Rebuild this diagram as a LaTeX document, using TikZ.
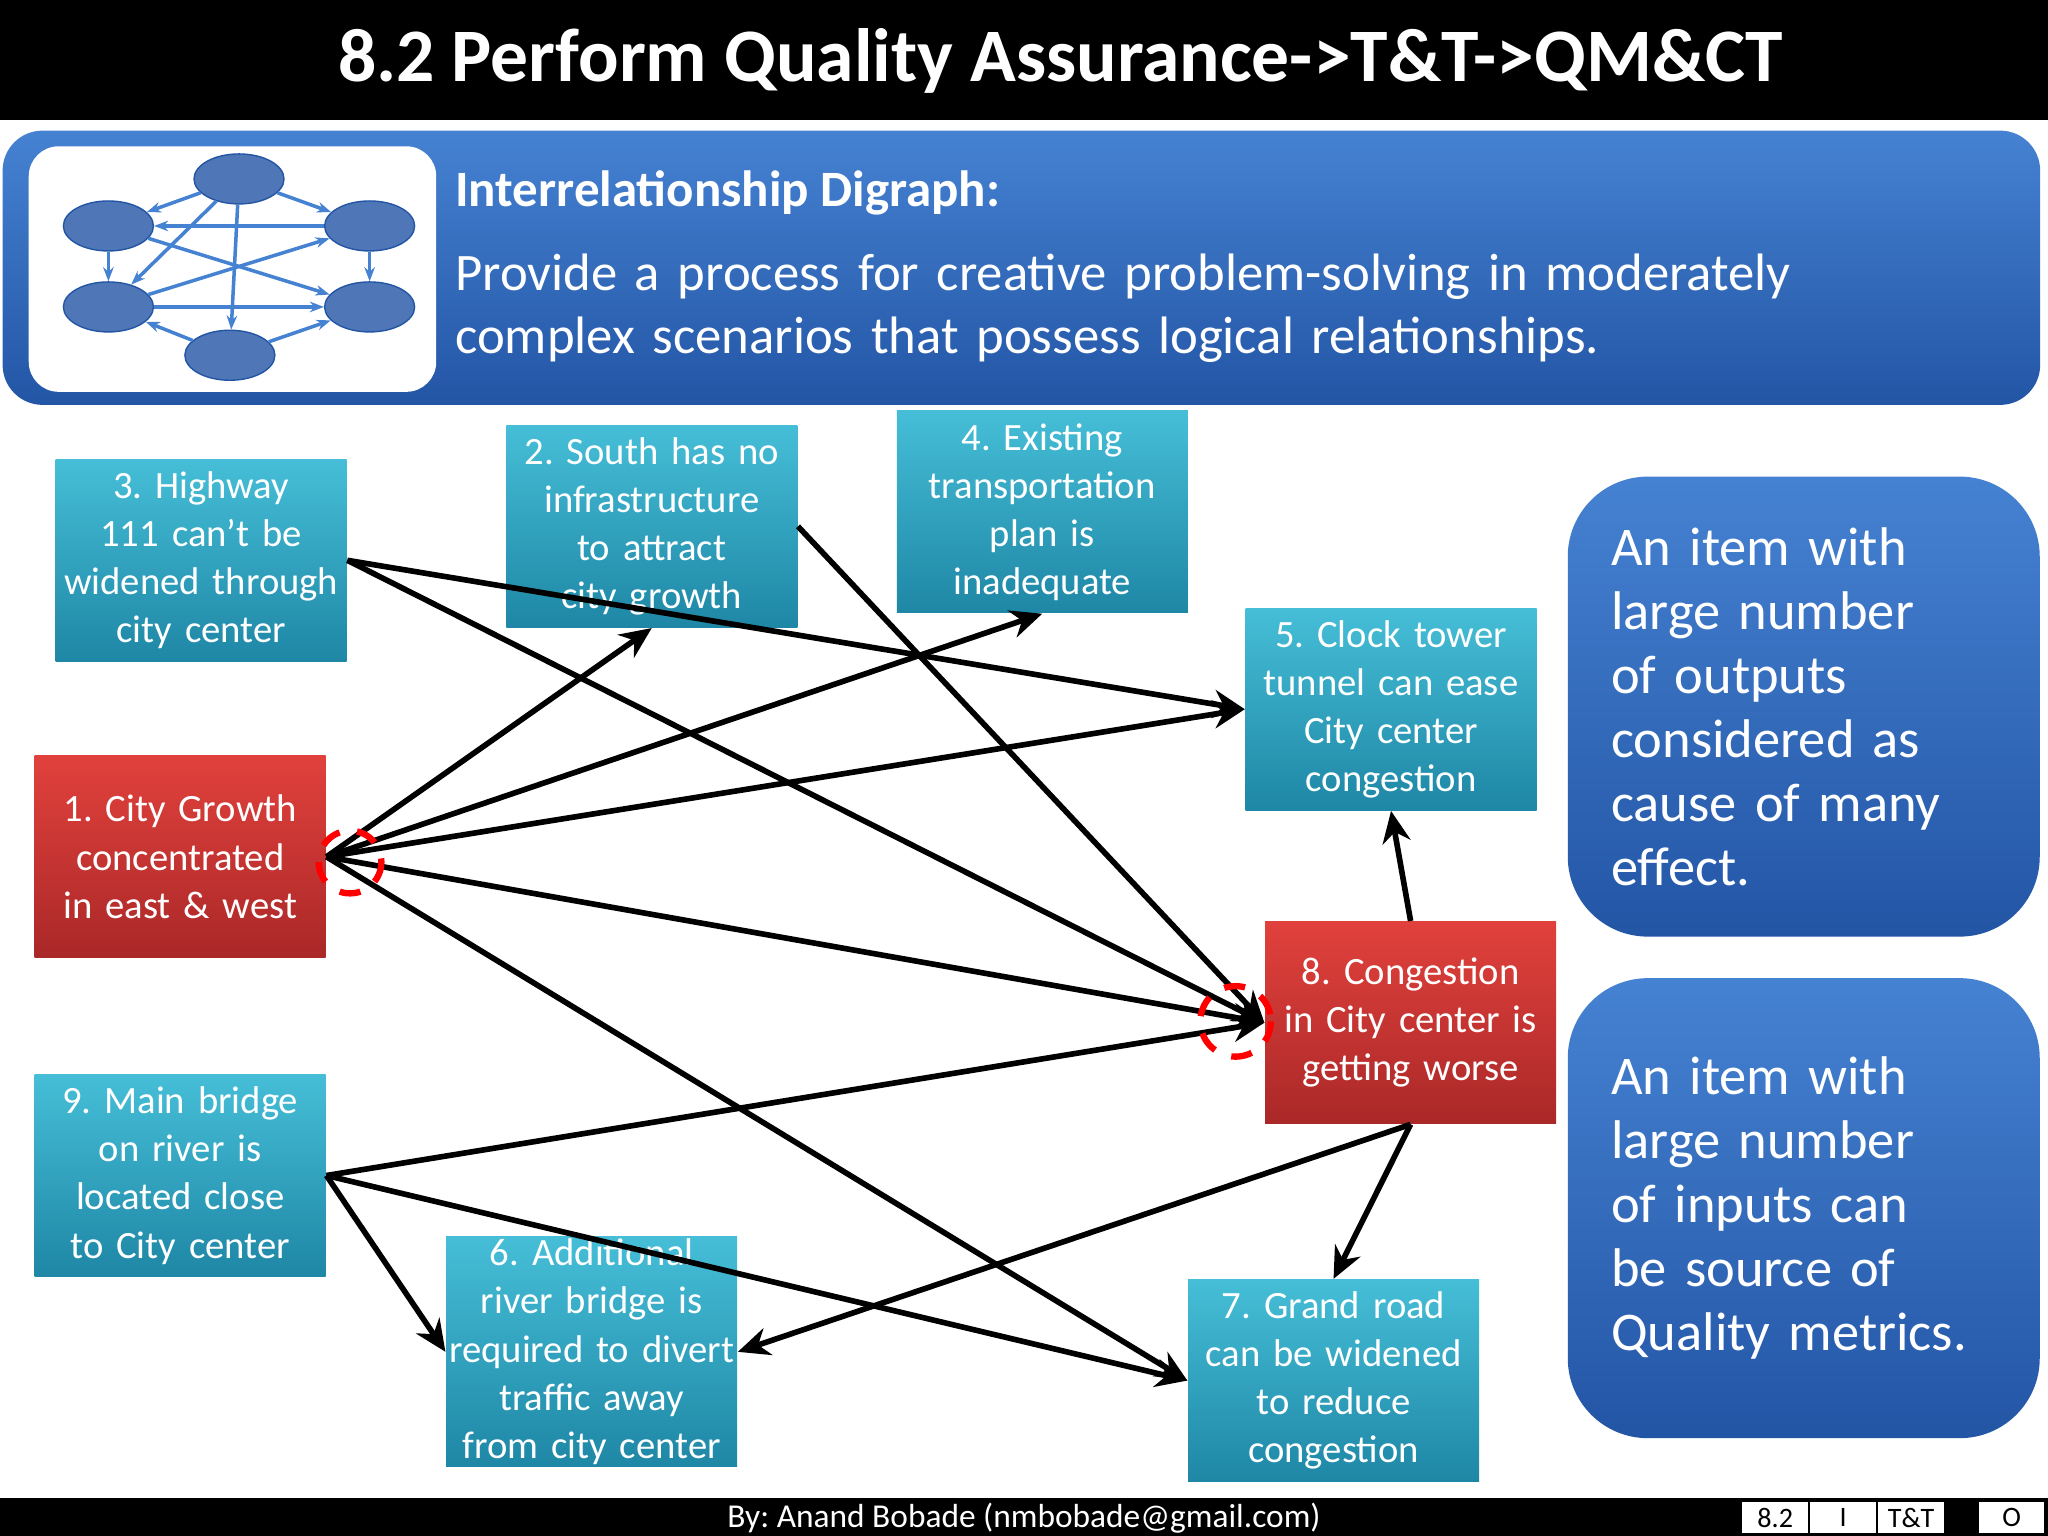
\documentclass[tikz,border=0pt]{standalone}
\usepackage{fontspec}
\setmainfont{Carlito}
\usetikzlibrary{arrows.meta,shapes.geometric}
\definecolor{tealtop}{RGB}{70,190,215}
\definecolor{tealbot}{RGB}{30,135,165}
\definecolor{redtop}{RGB}{225,65,60}
\definecolor{redbot}{RGB}{170,40,40}
\definecolor{bluetop}{RGB}{70,130,210}
\definecolor{bluebot}{RGB}{35,85,165}
\hyphenpenalty=10000
\frenchspacing
\tikzset{
  item/.style={rectangle, top color=tealtop, bottom color=tealbot, text=white,
    minimum width=2.91cm, minimum height=2.02cm, text width=2.9cm, align=center,
    font=\fontsize{11}{13.7}\selectfont, inner sep=0pt},
  hot/.style={item, top color=redtop, bottom color=redbot},
  link/.style={-{Stealth[length=9pt,width=8pt]}, line width=1.6pt},
  note/.style={rectangle, rounded corners=0.8cm, top color=bluetop, bottom color=bluebot,
    text=white, minimum width=4.72cm, minimum height=4.6cm, text width=3.85cm,
    align=left, font=\fontsize{15.5}{18.2}\selectfont},
  bub/.style={ellipse, fill=bluebot!80!white, draw=bluebot, minimum width=0.9cm, minimum height=0.5cm},
  ring/.style={red, line width=1.8pt, dash pattern=on 6pt off 5pt}
}
\begin{document}
\begin{tikzpicture}[x=0.01306cm, y=-0.01306cm]
\useasboundingbox (0,0) rectangle (1568,1176);
\fill[white] (0,0) rectangle (1568,1176);
% Title bar
\fill[black] (0,0) rectangle (1568,92);
\node[text=white, font=\fontsize{21.5}{24}\selectfont\bfseries] (title) at (812,47) {8.2 Perform Quality Assurance->T\&T->QM\&CT};
% Banner
\shade[top color=bluetop, bottom color=bluebot, rounded corners=0.4cm] (2,100) rectangle (1562,310);
\fill[white, rounded corners=0.3cm] (22,112) rectangle (334,300);
\node[bub] (b1) at (183,137) {};
\node[bub] (b2) at (83,173) {};
\node[bub] (b3) at (283,173) {};
\node[bub] (b4) at (83,235) {};
\node[bub] (b5) at (283,235) {};
\node[bub] (b6) at (176,272) {};
\foreach \s/\d in {b1/b2, b1/b3, b1/b6, b2/b4, b3/b5, b2/b5, b4/b3, b4/b5, b6/b5, b6/b4, b3/b2, b1/b4}
  \draw[-{Stealth[length=4pt]}, bluetop, line width=1pt] (\s) -- (\d);
\node[anchor=west, text=white, font=\fontsize{14.5}{17}\selectfont\bfseries, inner sep=0pt] (head) at (348,148) {Interrelationship Digraph:};
\node[anchor=north west, text=white, text width=15cm, align=left, font=\fontsize{15}{17.8}\selectfont, inner sep=0pt] (desc) at (348,194)
  {Provide a process for creative problem-solving in moderately\\complex scenarios that possess logical relationships.};
% Items
\node[item] (n3) at (154,429) {3. Highway 111 can't be widened through city center};
\node[item] (n2) at (499,403) {2. South has no infrastructure to attract city growth};
\node[item] (n4) at (798,392) {4. Existing transportation plan is inadequate};
\node[item] (n5) at (1065,543) {5. Clock tower tunnel can ease City center congestion};
\node[hot] (n1) at (138,656) {1. City Growth concentrated in east \& west};
\node[hot] (n8) at (1080,783) {8. Congestion in City center is getting worse};
\node[item] (n9) at (138,900) {9. Main bridge on river is located close to City center};
\node[item, minimum height=2.3cm] (n6) at (453,1035) {6. Additional river bridge is required to divert traffic away from city center};
\node[item] (n7) at (1021,1057) {7. Grand road can be widened to reduce congestion};
% Notes
\node[note] (o1) at (1381,541) {An item with large number of outputs considered as cause of many effect.};
\node[note] (o2) at (1381,925) {An item with large number of inputs can be source of Quality metrics.};
% Connections
\draw[link] (n3.east) -- (n5.west);
\draw[link] (n3.east) -- (n8.west);
\draw[link] (n2.east) -- (n8.west);
\foreach \d in {n2.south, n4.south, n5.west, n8.west, n7.west}
  \draw[link] (n1.east) -- (\d);
\foreach \d in {n8.west, n6.west, n7.west}
  \draw[link] (n9.east) -- (\d);
\draw[link] (n8.south) -- (n7.north);
\draw[link] (n8.south) -- (n6.east);
\draw[link] (n8.north) -- (n5.south);
% Marks
\draw[ring] (268,660) circle (24);
\draw[ring] (946,782) circle (27);
% Footer
\fill[black] (0,1147) rectangle (1568,1176);
\node[text=white, font=\fontsize{9.5}{11}\selectfont] (by) at (784,1162) {By: Anand Bobade (nmbobade@gmail.com)};
\foreach \x/\t in {1333/8.2, 1385/I, 1437/T\&T, 1514/O}
  \node[draw=black, fill=white, minimum width=0.67cm, minimum height=0.32cm, inner sep=0pt, font=\fontsize{8}{9}\selectfont, anchor=west] (f\x) at (\x,1162) {\t};
\end{tikzpicture}
\end{document}
